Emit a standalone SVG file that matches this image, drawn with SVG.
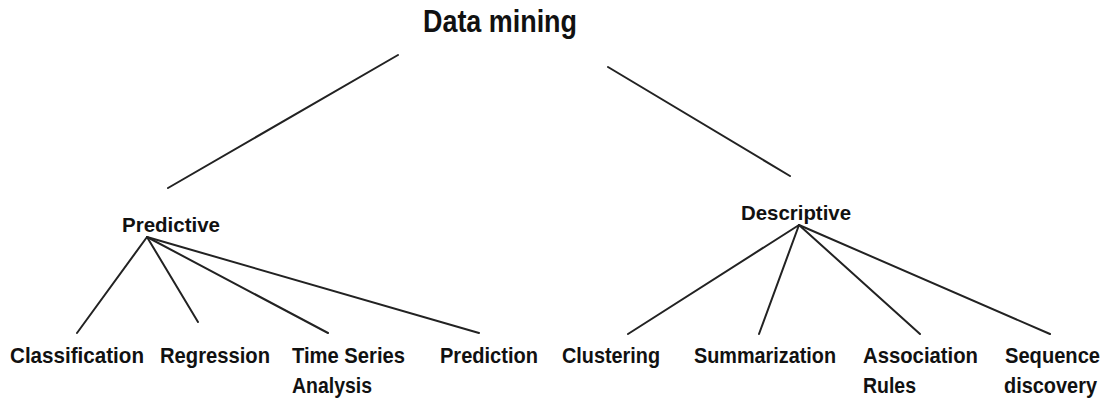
<svg xmlns="http://www.w3.org/2000/svg" width="1108" height="400" viewBox="0 0 1108 400">
<style>
text{font-family:"Liberation Sans",Arial,sans-serif;font-weight:bold;fill:#111;}
.t{font-size:31px;}
.h{font-size:21px;}
.l{font-size:22px;}
.c line{stroke:#222;stroke-width:2;stroke-linecap:round;}
</style>
<rect width="1108" height="400" fill="#fff"/>
<g class="c" id="connectors">
<line x1="398" y1="55" x2="168" y2="188"/>
<line x1="608" y1="67" x2="790" y2="176"/>
<line x1="147" y1="237" x2="77" y2="333"/>
<line x1="147" y1="237" x2="198" y2="322"/>
<line x1="147" y1="237" x2="328" y2="333"/>
<line x1="147" y1="237" x2="479" y2="333"/>
<line x1="799" y1="225" x2="628" y2="334"/>
<line x1="799" y1="225" x2="759" y2="334"/>
<line x1="799" y1="225" x2="920" y2="334"/>
<line x1="799" y1="225" x2="1050" y2="334"/>
</g>
<g id="datamining"><text class="t" x="423" y="32" textLength="154" lengthAdjust="spacingAndGlyphs">Data mining</text></g>
<g id="predictive"><text class="h" x="122" y="232" textLength="98" lengthAdjust="spacingAndGlyphs">Predictive</text></g>
<g id="descriptive"><text class="h" x="741" y="220" textLength="110" lengthAdjust="spacingAndGlyphs">Descriptive</text></g>
<g id="classification"><text class="l" x="10" y="363" textLength="134" lengthAdjust="spacingAndGlyphs">Classification</text></g>
<g id="regression"><text class="l" x="160" y="363" textLength="110" lengthAdjust="spacingAndGlyphs">Regression</text></g>
<g id="timeseries"><text class="l" x="292" y="363" textLength="113" lengthAdjust="spacingAndGlyphs">Time Series</text><text class="l" x="292" y="393" textLength="80" lengthAdjust="spacingAndGlyphs">Analysis</text></g>
<g id="prediction"><text class="l" x="440" y="363" textLength="98" lengthAdjust="spacingAndGlyphs">Prediction</text></g>
<g id="clustering"><text class="l" x="562" y="363" textLength="98" lengthAdjust="spacingAndGlyphs">Clustering</text></g>
<g id="summarization"><text class="l" x="694" y="363" textLength="142" lengthAdjust="spacingAndGlyphs">Summarization</text></g>
<g id="association"><text class="l" x="863" y="363" textLength="115" lengthAdjust="spacingAndGlyphs">Association</text><text class="l" x="863" y="393" textLength="53" lengthAdjust="spacingAndGlyphs">Rules</text></g>
<g id="sequence"><text class="l" x="1005" y="363" textLength="95" lengthAdjust="spacingAndGlyphs">Sequence</text><text class="l" x="1004" y="393" textLength="93" lengthAdjust="spacingAndGlyphs">discovery</text></g>
</svg>
